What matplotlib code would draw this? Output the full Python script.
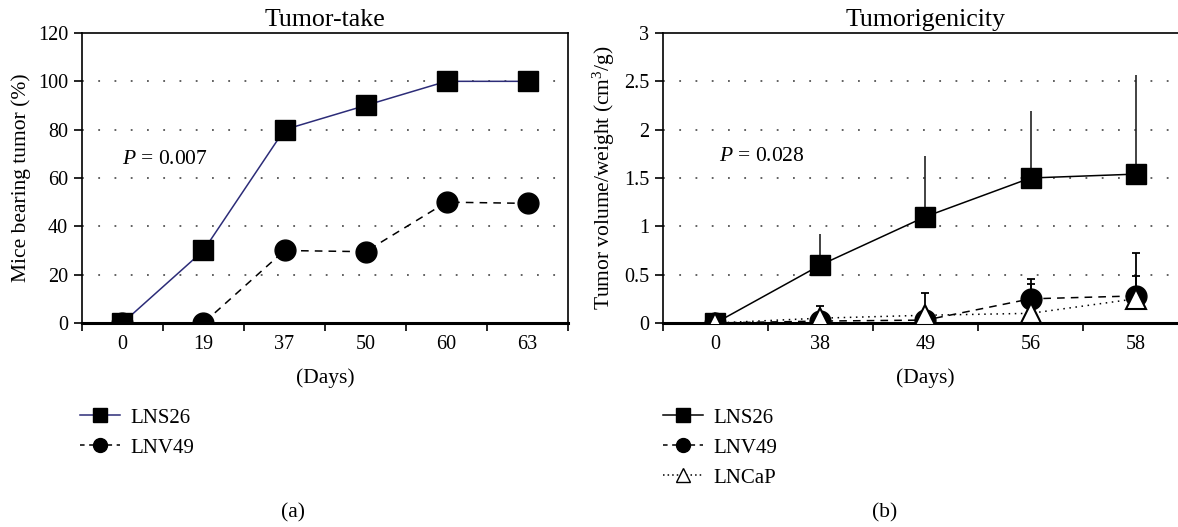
import matplotlib
matplotlib.use("Agg")
import matplotlib.pyplot as plt
from matplotlib.lines import Line2D

plt.rcParams['font.family'] = ['Liberation Serif', 'DejaVu Serif']
plt.rcParams['mathtext.fontset'] = 'custom'
plt.rcParams['mathtext.rm'] = 'Liberation Serif'
plt.rcParams['mathtext.it'] = 'Liberation Serif:italic'
plt.rcParams['font.size'] = 15.5

# ---- panel (a): tumor take ----
take_days = ["0", "19", "37", "50", "60", "63"]
take_lns26 = [0, 30, 80, 90, 100, 100]
take_lnv49 = [0, 0, 30, 29.5, 50, 49.5]
take_yticks = [0, 20, 40, 60, 80, 100, 120]

# ---- panel (b): tumorigenicity ----
tum_days = ["0", "38", "49", "56", "58"]
tum_lns26 = [0, 0.60, 1.10, 1.50, 1.54]
tum_lns26_err = [0, 0.32, 0.63, 0.69, 1.03]
tum_lnv49 = [0, 0.02, 0.03, 0.25, 0.28]
tum_lnv49_err = [0, 0.16, 0.28, 0.205, 0.44]
tum_lncap = [0, 0.05, 0.08, 0.10, 0.25]
tum_lncap_err = [0, 0, 0, 0.30, 0.24]
tum_yticks = [0, 0.5, 1, 1.5, 2, 2.5, 3]
tum_yticklabels = ["0", "0.5", "1", "1.5", "2", "2.5", "3"]

NAVY = "#2c2c78"
MS = 15

fig = plt.figure(figsize=(11.78, 5.27), dpi=100)
ax1 = fig.add_axes([0.0696, 0.3871, 0.4126, 0.5503])
ax2 = fig.add_axes([0.5628, 0.3871, 0.4457, 0.5503])


def style_axis(ax, labels, yticks, ymax):
    n = len(labels)
    ax.set_xlim(-0.5, n - 0.5)
    ax.set_ylim(0, ymax)
    ax.set_xticks([i - 0.5 for i in range(n + 1)])
    ax.set_xticklabels([])
    ax.set_xticks(range(n), minor=True)
    ax.set_xticklabels(labels, minor=True)
    ax.tick_params(axis='x', which='major', direction='out', length=6, width=1.2)
    ax.tick_params(axis='x', which='minor', length=0, pad=9, labelsize=14.5)
    ax.set_yticks(yticks)
    ax.tick_params(axis='y', direction='out', length=6, width=1.2, pad=4, labelsize=14.5)
    for y in yticks[1:-1]:
        ax.axhline(y, color="#555555", linestyle=(0, (1, 8)), linewidth=1.3, zorder=0)
    for s in ax.spines.values():
        s.set_linewidth(1.2)
    ax.spines['bottom'].set_linewidth(2.2)
    ax.set_xlabel("(Days)", labelpad=10)


# panel (a)
x1 = range(len(take_days))
ax1.plot(x1, take_lnv49, color="black", linestyle=(0, (5, 4)), linewidth=1.1,
         marker='o', markersize=MS, markerfacecolor="black", markeredgecolor="black", zorder=3)
ax1.plot(x1, take_lns26, color=NAVY, linestyle='-', linewidth=1.1,
         marker='s', markersize=MS, markerfacecolor="black", markeredgecolor="black", zorder=4)
style_axis(ax1, take_days, take_yticks, 120)
ax1.set_ylabel("Mice bearing tumor (%)", labelpad=5)
ax1.set_title("Tumor-take", pad=5)
ax1.text(0.0, 67.5, "$P$ = 0.007", ha='left', va='center')

# panel (b)
x2 = range(len(tum_days))
ax2.errorbar(x2, tum_lnv49, yerr=[[0] * len(x2), tum_lnv49_err], fmt='none',
             ecolor="black", elinewidth=1.3, capsize=3, capthick=1.3, zorder=2)
ax2.errorbar(x2, tum_lncap, yerr=[[0] * len(x2), tum_lncap_err], fmt='none',
             ecolor="black", elinewidth=1.3, capsize=3, capthick=1.3, zorder=2)
ax2.errorbar(x2, tum_lns26, yerr=[[0] * len(x2), tum_lns26_err], fmt='none',
             ecolor="#222222", elinewidth=1.2, capsize=0, zorder=2)
ax2.plot(x2, tum_lnv49, color="black", linestyle=(0, (5, 4)), linewidth=1.1,
         marker='o', markersize=MS, markerfacecolor="black", markeredgecolor="black", zorder=3)
ax2.plot(x2, tum_lns26, color="black", linestyle='-', linewidth=1.1,
         marker='s', markersize=MS, markerfacecolor="black", markeredgecolor="black", zorder=4)
ax2.plot(x2, tum_lncap, color="black", linestyle=(0, (1, 3)), linewidth=1.1,
         marker='^', markersize=MS, markerfacecolor="white", markeredgecolor="black",
         markeredgewidth=1.5, zorder=5)
style_axis(ax2, tum_days, tum_yticks, 3)
ax2.set_yticklabels(tum_yticklabels)
ax2.set_ylabel("Tumor volume/weight (cm$^{3}$/g)", labelpad=5)
ax2.set_title("Tumorigenicity", pad=5)
ax2.text(0.03, 1.72, "$P$ = 0.028", ha='left', va='center')

# legends
leg_kw = dict(loc='upper left', frameon=False, handlelength=1.9, handletextpad=0.5,
              labelspacing=0.5, borderpad=0, borderaxespad=0, fontsize=15)
h_a = [Line2D([], [], color=NAVY, lw=1.1, marker='s', ms=10, mfc='black', mec='black'),
       Line2D([], [], color='black', lw=1.1, ls=(0, (3, 3)), marker='o', ms=10, mfc='black', mec='black')]
fig.legend(h_a, ["LNS26", "LNV49"], bbox_to_anchor=(80 / 1178, 1 - 408 / 527), **leg_kw)
h_b = [Line2D([], [], color='black', lw=1.1, marker='s', ms=10, mfc='black', mec='black'),
       Line2D([], [], color='black', lw=1.1, ls=(0, (3, 3)), marker='o', ms=10, mfc='black', mec='black'),
       Line2D([], [], color='black', lw=1.1, ls=(0, (1, 2)), marker='^', ms=10, mfc='white', mec='black')]
fig.legend(h_b, ["LNS26", "LNV49", "LNCaP"], bbox_to_anchor=(663 / 1178, 1 - 408 / 527), **leg_kw)

fig.text(293 / 1178, 1 - 513 / 527, "(a)", ha='center', va='center')
fig.text(885 / 1178, 1 - 513 / 527, "(b)", ha='center', va='center')

fig.savefig("out.png", dpi=100)
